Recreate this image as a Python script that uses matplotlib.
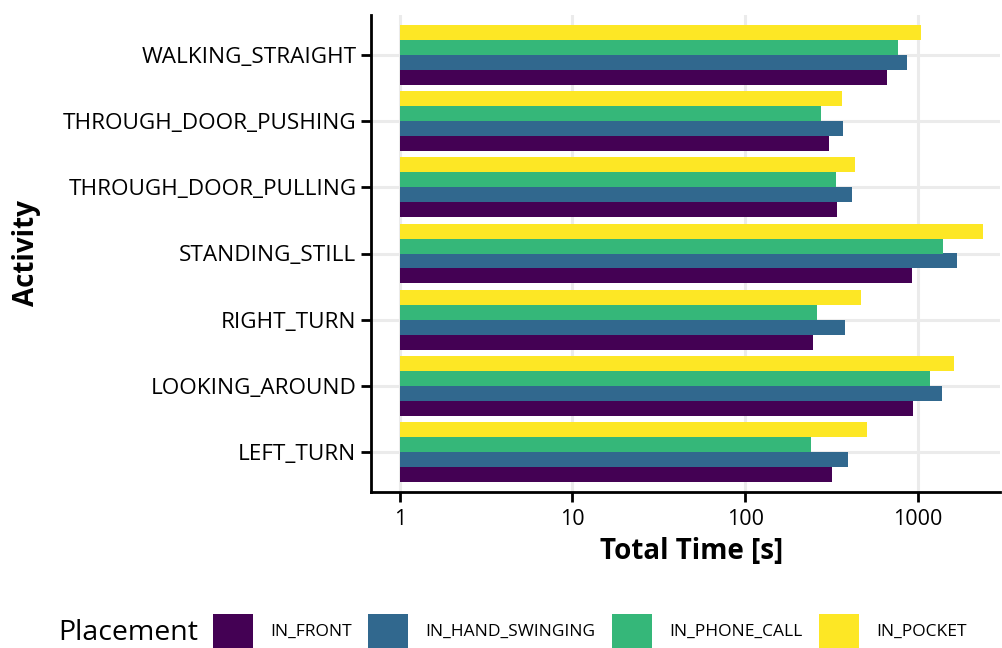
import numpy as np
import matplotlib
matplotlib.use("Agg")
import matplotlib.pyplot as plt
from matplotlib.patches import Patch

plt.rcParams["font.family"] = ["Open Sans", "DejaVu Sans"]

# activities, bottom to top
activities = ["LEFT_TURN", "LOOKING_AROUND", "RIGHT_TURN", "STANDING_STILL",
              "THROUGH_DOOR_PULLING", "THROUGH_DOOR_PUSHING", "WALKING_STRAIGHT"]
placements = ["IN_FRONT", "IN_HAND_SWINGING", "IN_PHONE_CALL", "IN_POCKET"]
colors = ["#440154", "#31688E", "#35B779", "#FDE725"]

# total time [s] per placement, same order as activities
in_front = [318, 937, 247, 925, 340, 305, 661]
in_hand_swinging = [393, 1377, 378, 1683, 415, 368, 863]
in_phone_call = [240, 1175, 260, 1396, 336, 275, 766]
in_pocket = [507, 1618, 468, 2377, 432, 363, 1040]
series = [in_front, in_hand_swinging, in_phone_call, in_pocket]

fig = plt.figure(figsize=(10.02, 6.48), dpi=100)
ax = fig.add_axes([371 / 1002, 156 / 648, 629 / 1002, 477 / 648])

y = np.arange(len(activities))
h = 0.225
for i, (vals, col) in enumerate(zip(series, colors)):
    vals = np.asarray(vals, dtype=float)
    ax.barh(y + (i - 1.5) * h, vals - 1, left=1, height=h, color=col,
            edgecolor="none", zorder=2)

ax.set_xscale("log")
ax.set_xlim(10 ** -0.166, 10 ** 3.474)
ax.set_ylim(-0.6, len(activities) - 0.4)
ax.set_xticks([1, 10, 100, 1000])
ax.set_xticklabels(["1", "10", "100", "1000"])
ax.xaxis.set_minor_locator(matplotlib.ticker.NullLocator())
ax.set_yticks(y)
ax.set_yticklabels(activities)

ax.grid(True, color="#EBEBEB", linewidth=2.2, zorder=0)
ax.set_axisbelow(True)
for s in ["top", "right"]:
    ax.spines[s].set_visible(False)
for s in ["left", "bottom"]:
    ax.spines[s].set_linewidth(2)
    ax.spines[s].set_color("black")
ax.tick_params(axis="both", length=7, width=2, color="black",
               labelcolor="black")
ax.tick_params(axis="y", labelsize=16.2, pad=3.5)
ax.tick_params(axis="x", labelsize=15.5, pad=5)

ax.set_xlabel("Total Time [s]", fontsize=20, fontweight="bold")
ax.xaxis.set_label_coords(0.51, -0.095)
ax.set_ylabel("Activity", fontsize=20, fontweight="bold")
ax.yaxis.set_label_coords(-0.525, 0.5)

handles = [Patch(facecolor=c, edgecolor="none") for c in colors]
fig.legend(handles, placements, loc="center left",
           bbox_to_anchor=(213 / 1002, 1 - 631 / 648), ncol=4, frameon=False,
           fontsize=12.5, handlelength=2.3, handleheight=2.63,
           handletextpad=1.0, columnspacing=0.95, borderpad=0, borderaxespad=0)
fig.text(58 / 1002, 1 - 633 / 648, "Placement", fontsize=20.5, va="center",
         ha="left")

fig.savefig("out.png", dpi=100)
